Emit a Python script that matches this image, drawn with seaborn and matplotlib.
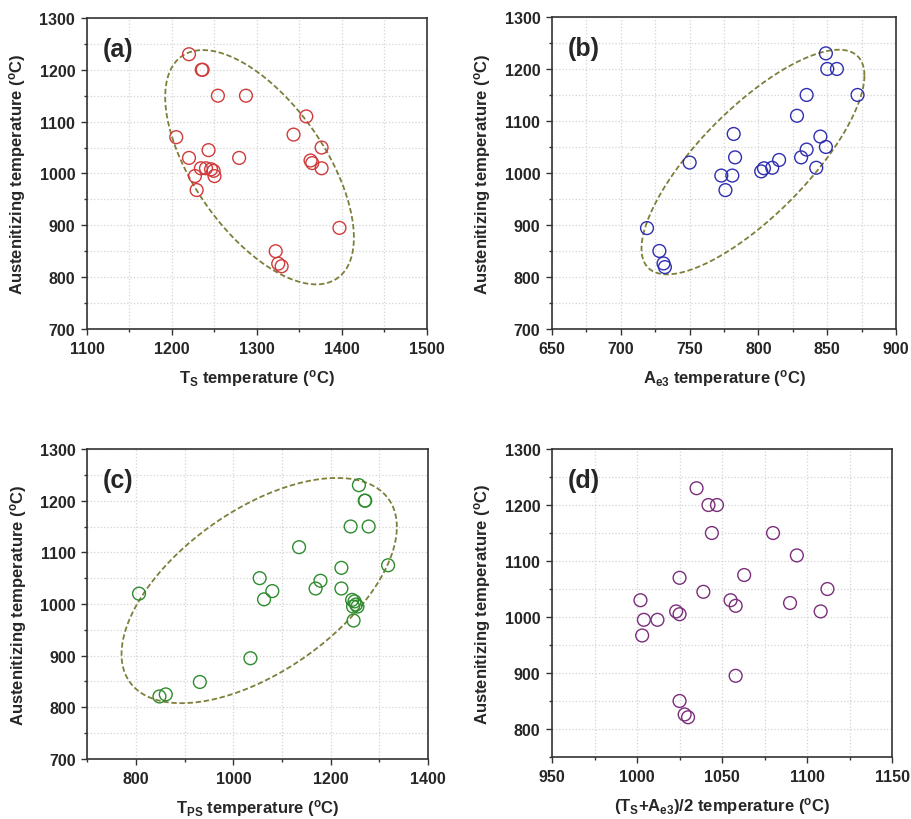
import numpy as np
import pandas as pd
import seaborn as sns
import matplotlib.pyplot as plt
from matplotlib.ticker import MultipleLocator

# data
ts_a = [1220, 1235, 1236, 1254, 1287, 1358, 1343, 1205, 1376, 1243, 1220, 1279, 1363,
        1365, 1376, 1234, 1240, 1246, 1249, 1250, 1227, 1229, 1397, 1322, 1325, 1329]
aus_a = [1230, 1200, 1200, 1150, 1150, 1110, 1075, 1070, 1050, 1045, 1030, 1030, 1025,
         1020, 1010, 1010, 1010, 1008, 1005, 995, 995, 968, 895, 850, 826, 821]

ae3_b = [849, 850, 857, 872, 835, 828, 782, 845, 849, 835, 783, 831, 750,
         815, 810, 804, 802, 842, 773, 781, 776, 719, 728, 731, 732]
aus_b = [1230, 1200, 1200, 1150, 1150, 1110, 1075, 1070, 1050, 1045, 1030, 1030, 1020,
         1025, 1010, 1009, 1003, 1010, 995, 995, 967, 894, 850, 826, 819]

tps_c = [1258, 1270, 1271, 1241, 1278, 1135, 1318, 1222, 1054, 1179, 1169, 1222, 1080,
         806, 1063, 1244, 1249, 1252, 1246, 1255, 1247, 1035, 931, 861, 848]
aus_c = [1230, 1200, 1200, 1150, 1150, 1110, 1075, 1070, 1050, 1045, 1030, 1030, 1025,
         1020, 1009, 1008, 1005, 999, 995, 995, 968, 895, 849, 825, 821]

mean_d = [1035, 1042, 1047, 1044, 1080, 1094, 1025, 1063, 1039, 1112, 1002, 1055,
          1058, 1090, 1108, 1023, 1025, 1004, 1012, 1003, 1058, 1025, 1028, 1030]
aus_d = [1230, 1200, 1200, 1150, 1150, 1110, 1070, 1075, 1045, 1050, 1030, 1030,
         1020, 1025, 1010, 1010, 1005, 995, 995, 967, 895, 850, 826, 821]

# confidence ellipses: centre x, centre y, half width in x, half height in y, cos(phase)
ell_a = [1303, 1012, 111, 226, -0.60]
ell_b = [796, 1021, 81, 216, 0.77]
ell_c = [1053, 1026, 283, 218, 0.565]

sns.set_style("white")
plt.rcParams['font.family'] = ['Liberation Sans', 'DejaVu Sans']
plt.rcParams['font.weight'] = 'bold'
plt.rcParams['mathtext.fontset'] = 'custom'
plt.rcParams['mathtext.rm'] = 'Liberation Sans:bold'
plt.rcParams['mathtext.it'] = 'Liberation Sans:bold'
plt.rcParams['mathtext.bf'] = 'Liberation Sans:bold'
plt.rcParams['mathtext.default'] = 'rm'

fig = plt.figure(figsize=(9.11, 8.2), dpi=100)
ax_a = fig.add_axes([0.0955, 0.5976, 0.3732, 0.3793])
ax_b = fig.add_axes([0.606, 0.5976, 0.3776, 0.3805])
ax_c = fig.add_axes([0.096, 0.0732, 0.3738, 0.378])
ax_d = fig.add_axes([0.606, 0.0756, 0.3732, 0.3756])

panels = [
    (ax_a, ts_a, aus_a, '#d03a3a', ell_a, 'T$_S$ temperature ($^o$C)', '(a)',
     (1100, 1500), (100, 50), (700, 1300)),
    (ax_b, ae3_b, aus_b, '#2f2fb0', ell_b, 'A$_{e3}$ temperature ($^o$C)', '(b)',
     (650, 900), (50, 25), (700, 1300)),
    (ax_c, tps_c, aus_c, '#2e8b2e', ell_c, 'T$_{PS}$ temperature ($^o$C)', '(c)',
     (700, 1400), (200, 100), (700, 1300)),
    (ax_d, mean_d, aus_d, '#7a2e7a', None, '(T$_S$+A$_{e3}$)/2 temperature ($^o$C)', '(d)',
     (950, 1150), (50, 25), (750, 1300)),
]

for ax, xs, ys, col, ell, xlab, tag, xlim, xstep, ylim in panels:
    df = pd.DataFrame({'x': xs, 'y': ys})
    sns.scatterplot(data=df, x='x', y='y', ax=ax, s=85, facecolors='none',
                    edgecolor=col, linewidth=1.0, zorder=3)
    if ell is not None:
        t = np.linspace(0, 2 * np.pi, 300)
        phi = np.arccos(ell[4])
        ax.plot(ell[0] + ell[2] * np.cos(t), ell[1] + ell[3] * np.cos(t - phi),
                color='#7f7f3c', lw=1.3, ls=(0, (3, 1.5)), zorder=2)
    ax.set_xlim(*xlim)
    ax.set_ylim(*ylim)
    ax.xaxis.set_major_locator(MultipleLocator(xstep[0]))
    ax.xaxis.set_minor_locator(MultipleLocator(xstep[1]))
    ax.yaxis.set_major_locator(MultipleLocator(100))
    ax.yaxis.set_minor_locator(MultipleLocator(50))
    if tag == '(c)':
        ax.set_xticks([800, 1000, 1200, 1400])
        ax.set_xticks([700, 900, 1100, 1300], minor=True)
    ax.grid(True, which='both', color='#d4d4d4', ls=':', lw=0.9)
    ax.tick_params(which='major', direction='out', length=4.5, width=1, labelsize=11.5,
                   pad=4, color='#333333', bottom=True, left=True)
    ax.tick_params(which='minor', direction='out', length=2.5, width=1,
                   color='#333333', bottom=True, left=True)
    for lab in ax.get_xticklabels() + ax.get_yticklabels():
        lab.set_fontweight('bold')
    for sp in ax.spines.values():
        sp.set_color('#333333')
        sp.set_linewidth(1.2)
    ax.set_xlabel(xlab, fontsize=12, fontweight='bold', labelpad=8)
    ax.set_ylabel('Austenitizing temperature ($^o$C)', fontsize=12, fontweight='bold',
                  labelpad=8)
    ax.text(0.045, 0.9, tag, transform=ax.transAxes, fontsize=18, fontweight='bold',
            va='center', ha='left')

fig.savefig('out.png', dpi=100)
